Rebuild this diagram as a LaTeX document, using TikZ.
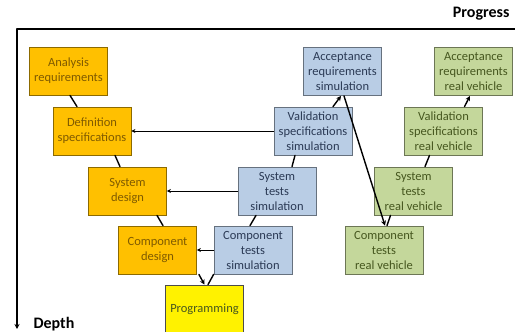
\documentclass[tikz,border=0pt]{standalone}
\usepackage{fontspec}
\setmainfont{Carlito}
\usetikzlibrary{arrows.meta}

\definecolor{phaseorange}{HTML}{FFC000}
\definecolor{phasebrown}{HTML}{7F5A00}
\definecolor{simblue}{HTML}{B9CDE5}
\definecolor{simtext}{HTML}{2B3A55}
\definecolor{realgreen}{HTML}{C4D79B}
\definecolor{realtext}{HTML}{46571F}

\def\bw{78}
\def\bh{48}

\begin{document}
\begin{tikzpicture}[x=1pt, y=-1pt, >={Stealth[length=5pt,width=5pt]}, line cap=round,
    box/.style={minimum width=\bw pt, minimum height=\bh pt, inner sep=0pt, align=center,
                font=\fontsize{12.5}{15}\selectfont, draw=#1!55!black, line width=0.8pt},
    design/.style={box=phaseorange, fill=phaseorange, text=phasebrown},
    sim/.style={box=simblue, fill=simblue, text=simtext},
    real/.style={box=realgreen, fill=realgreen, text=realtext},
    prog/.style={box=yellow, fill=yellow, text=realtext, draw=black!70},
    link/.style={line width=1.4pt},
    back/.style={line width=0.9pt, -{Stealth[length=4pt,width=4pt]}}
  ]
\useasboundingbox (0,0) rectangle (515,332);

% axes
\coordinate (origin) at (17,29);
\coordinate (xend) at (516,29);
\coordinate (yend) at (17,329);
\draw [line width=1.6pt] (origin) -- (xend);
\draw [line width=1.6pt,->] (origin) -- (yend);
\node (progress) [anchor=east, font=\fontsize{16}{18}\selectfont\bfseries] at (513,14) {Progress};
\node (depth) [anchor=west, font=\fontsize{16}{18}\selectfont\bfseries] at (30,324) {Depth};

% design side
\node (ana)  [design] at (68.5,71)  {Analysis\\requirements};
\node (def)  [design] at (92,131)   {Definition\\specifications};
\node (sysd) [design] at (127.5,191) {System\\design};
\node (comd) [design] at (157.5,250) {Component\\design};
\node (code) [prog]   at (204.5,309) {Programming};

% simulation side
\node (cts) [sim] at (253,250)   {Component\\tests\\simulation};
\node (sts) [sim] at (277,191)   {System\\tests\\simulation};
\node (vs)  [sim] at (313,131)   {Validation\\specifications\\simulation};
\node (as)  [sim] at (342.5,71.5) {Acceptance\\requirements\\simulation};

% real vehicle side
\node (ctr) [real] at (384,250)   {Component\\tests\\real vehicle};
\node (str) [real] at (413.5,191) {System\\tests\\real vehicle};
\node (vr)  [real] at (443.5,131) {Validation\\specifications\\real vehicle};
\node (ar)  [real] at (473.5,71.5) {Acceptance\\requirements\\real vehicle};

% the V
\draw [link] ([xshift=1.5pt]ana.south) -- ([xshift=-15pt]def.north);
\draw [link] ([xshift=23pt]def.south) -- ([xshift=-7.5pt]sysd.north);
\draw [link] ([xshift=29.5pt]sysd.south) -- ([xshift=5.5pt]comd.north);
\draw [link,->] ([xshift=2pt]comd.south east) -- (code.north);
\draw [link] ([xshift=3.5pt]code.north) -- (cts.south west);
\draw [link] ([xshift=-3pt]cts.north) -- ([xshift=-21pt]sts.south);
\draw [link] ([xshift=15pt]sts.north) -- ([xshift=-18pt]vs.south);
\draw [link,->] ([xshift=20pt]vs.north) -- ([xshift=-1.5pt]as.south);
\draw [link,->] ([xshift=1.5pt]as.south) -- ([xshift=1pt]ctr.north);
\draw [link] ([xshift=3pt]ctr.north) -- ([xshift=-23pt]str.south);
\draw [link] ([xshift=11.5pt]str.north) -- ([xshift=-14pt]vr.south);
\draw [link,->] ([xshift=21pt]vr.north) -- ([xshift=-3.5pt]ar.south);

% feedback
\draw [back] (vs.west) -- (def.east);
\draw [back] (sts.west) -- (sysd.east);
\draw [back] (cts.west) -- (comd.east);
\end{tikzpicture}
\end{document}
